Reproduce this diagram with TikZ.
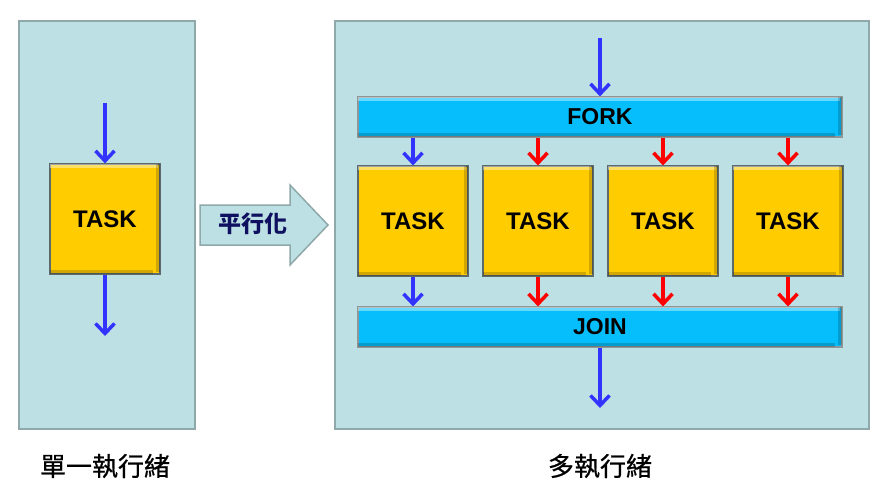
\documentclass[tikz,border=0pt]{standalone}
\usepackage{fontspec}
\setmainfont{Liberation Sans}
\newfontfamily\cjk{Noto Sans CJK TC}
\newfontfamily\cjkcap[FakeBold=0.7]{Noto Sans CJK TC}
\usetikzlibrary{arrows.meta}
\definecolor{panelfill}{HTML}{BCE0E3}
\definecolor{panelline}{HTML}{8FA8AA}
\definecolor{taskfill}{HTML}{FFCC00}
\definecolor{barfill}{HTML}{06BEFC}
\definecolor{arrblue}{HTML}{3333FF}
\definecolor{arrred}{HTML}{FF0000}
\definecolor{bevel}{HTML}{5E6A6A}
\definecolor{navytext}{HTML}{101060}
\tikzset{
  panel/.style={draw=panelline, line width=1.5pt, fill=panelfill, anchor=north west, inner sep=0pt},
  taskbox/.style={draw=bevel, line width=1.2pt, fill=taskfill, minimum width=110pt, minimum height=110pt, inner sep=0pt, font=\bfseries\fontsize{24}{28}\selectfont},
  barbox/.style={draw=bevel!70, line width=1.2pt, fill=barfill, minimum width=484pt, minimum height=40pt, inner sep=0pt, font=\bfseries\fontsize{23}{27}\selectfont},
  flow/.style={line width=4pt, -{Straight Barb[length=10pt,width=19pt,line width=3.5pt]}},
  blueflow/.style={flow, draw=arrblue},
  redflow/.style={flow, draw=arrred},
  caption/.style={font=\cjkcap\fontsize{26}{30}\selectfont},
  hilite/.style={fill=white, opacity=0.4},
  shade/.style={fill=black, opacity=0.18},
}
\begin{document}
\begin{tikzpicture}[x=1pt,y=-1pt]
\useasboundingbox (0,0) rectangle (889,498);
% panels
\node[panel, minimum width=176pt, minimum height=408pt] (lp) at (18,20) {};
\node[panel, minimum width=534pt, minimum height=408pt] (rp) at (334,20) {};
% big arrow
\draw[draw=panelline, line width=1.5pt, fill=panelfill]
  (200,205) -- (290,205) -- (290,185) -- (328,225) -- (290,265) -- (290,245) -- (200,245) -- cycle;
\node[font=\cjk\bfseries\fontsize{23}{26}\selectfont, text=navytext] (par) at (253,224) {平行化};
% left
\node[taskbox] (t0) at (105,219) {TASK};
\fill[hilite] (t0.north west) ++(1,1) rectangle ++(108,4);
\fill[shade] (t0.north east) ++(-1,1) rectangle ++(-4,108);
\fill[shade] (t0.south west) ++(1,-1) rectangle ++(103,-4);
\coordinate (lin) at (105,103);
\coordinate (lout) at (105,336);
\draw[blueflow] (lin) -- (t0.north);
\draw[blueflow] (t0.south) -- (lout);
% right
\node[barbox] (fork) at (600,117) {FORK};
\node[barbox] (join) at (600,327) {JOIN};
\foreach \b in {fork,join}{
  \fill[hilite] (\b.north west) ++(1,1) rectangle ++(482,4);
  \fill[shade] (\b.south west) ++(1,-1) rectangle ++(477,-4);
  \fill[shade] (\b.north east) ++(-1,1) rectangle ++(-4,38);
}
\foreach \i/\x in {1/413,2/538,3/663,4/788}{
  \node[taskbox] (t\i) at (\x,221) {TASK};
  \fill[hilite] (t\i.north west) ++(1,1) rectangle ++(108,4);
  \fill[shade] (t\i.north east) ++(-1,1) rectangle ++(-4,108);
  \fill[shade] (t\i.south west) ++(1,-1) rectangle ++(103,-4);
}
\coordinate (rin) at (600,38);
\coordinate (rout) at (600,408);
\draw[blueflow] (rin) -- (fork.north);
\draw[blueflow] (join.south) -- (rout);
\draw[blueflow] (fork.south -| t1.north) -- (t1.north);
\draw[blueflow] (t1.south) -- (join.north -| t1.south);
\foreach \i in {2,3,4}{
  \draw[redflow] (fork.south -| t\i.north) -- (t\i.north);
  \draw[redflow] (t\i.south) -- (join.north -| t\i.south);
}
% captions
\node[caption] (c1) at (105,466) {單一執行緒};
\node[caption] (c2) at (600,466) {多執行緒};
\end{tikzpicture}
\end{document}
